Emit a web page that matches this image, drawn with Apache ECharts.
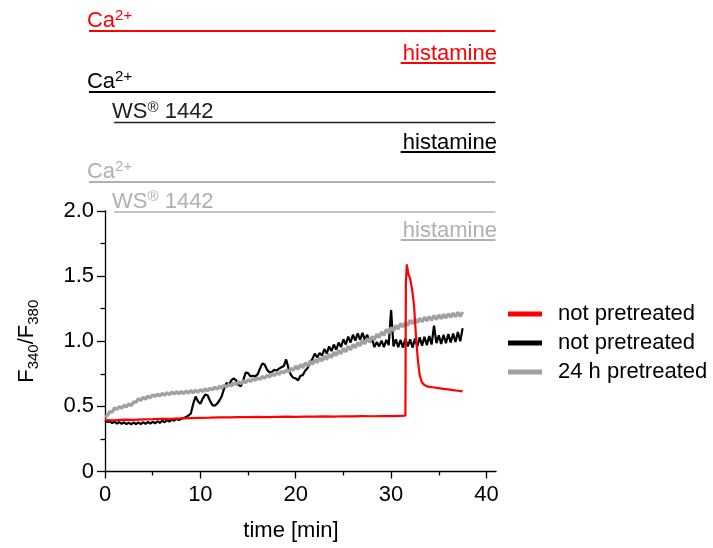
<!DOCTYPE html>
<html><head><meta charset="utf-8">
<script src="https://cdn.jsdelivr.net/npm/echarts@6/dist/echarts.min.js"></script>
<style>html,body{margin:0;padding:0;background:#fff}#c{width:713px;height:548px}</style>
</head><body><div id="c"></div>
<script>
const FONT = '"Liberation Sans", Arial, sans-serif';

// ---- data ----
const STEP = 0.25; // min, sampling of black & gray traces
const grayValues = [
  0.42, 0.43, 0.46, 0.455, 0.49, 0.475, 0.50, 0.485,
  0.51, 0.495, 0.52, 0.505, 0.535, 0.53, 0.56, 0.545,
  0.57, 0.555, 0.58, 0.565, 0.59, 0.575, 0.595, 0.58,
  0.60, 0.585, 0.605, 0.59, 0.61, 0.595, 0.612, 0.596,
  0.615, 0.598, 0.618, 0.60, 0.622, 0.603, 0.625, 0.608,
  0.63, 0.612, 0.636, 0.618, 0.64, 0.625, 0.648, 0.632,
  0.655, 0.64, 0.662, 0.648, 0.67, 0.656, 0.68, 0.665,
  0.69, 0.674, 0.697, 0.682, 0.705, 0.69, 0.712, 0.698,
  0.72, 0.706, 0.73, 0.716, 0.74, 0.725, 0.75, 0.735,
  0.76, 0.745, 0.77, 0.756, 0.78, 0.766, 0.792, 0.778,
  0.81, 0.785, 0.822, 0.797, 0.835, 0.81, 0.848, 0.822,
  0.86, 0.834, 0.874, 0.847, 0.887, 0.86, 0.90, 0.874,
  0.916, 0.889, 0.93, 0.904, 0.946, 0.918, 0.962, 0.934,
  0.976, 0.949, 0.991, 0.964, 1.006, 0.979, 1.022, 0.994,
  1.037, 1.01, 1.055, 1.028, 1.072, 1.045, 1.092, 1.063,
  1.107, 1.08, 1.122, 1.093, 1.137, 1.11, 1.147, 1.12,
  1.162, 1.133, 1.172, 1.143, 1.177, 1.148, 1.185, 1.156,
  1.19, 1.161, 1.197, 1.168, 1.202, 1.173, 1.207, 1.178,
  1.212, 1.183, 1.217, 1.188, 1.222, 1.19, 1.225
];
const blackValues = [
  0.395, 0.38, 0.385, 0.372, 0.383, 0.368, 0.38, 0.365,
  0.378, 0.363, 0.376, 0.362, 0.377, 0.363, 0.377, 0.364,
  0.379, 0.365, 0.381, 0.367, 0.383, 0.37, 0.386, 0.373,
  0.39, 0.378, 0.395, 0.383, 0.40, 0.39, 0.405, 0.395,
  0.405, 0.41, 0.418, 0.43, 0.445, 0.52, 0.575, 0.54,
  0.52, 0.56, 0.59, 0.585, 0.545, 0.51, 0.505, 0.52,
  0.545, 0.58, 0.64, 0.68, 0.665, 0.70, 0.715, 0.70,
  0.665, 0.655, 0.70, 0.76, 0.755, 0.73, 0.735, 0.73,
  0.745, 0.79, 0.83, 0.82, 0.78, 0.76, 0.765, 0.78,
  0.775, 0.79, 0.80, 0.81, 0.86, 0.79, 0.74, 0.72,
  0.715, 0.70, 0.735, 0.74, 0.775, 0.795, 0.835, 0.865,
  0.905, 0.875, 0.91, 0.89, 0.94, 0.905, 0.96, 0.925,
  0.975, 0.935, 0.99, 0.955, 1.015, 0.975, 1.035, 0.99,
  1.05, 1.005, 1.06, 1.01, 1.065, 1.01, 1.05, 0.99,
  1.02, 0.955, 0.995, 0.96, 1.005, 0.955, 1.01, 0.97,
  1.24, 0.96, 1.015, 0.955, 1.01, 0.95, 1.02, 0.96,
  1.015, 0.95, 1.02, 0.96, 1.03, 0.965, 1.035, 0.97,
  1.04, 0.975, 1.12, 0.985, 1.045, 0.98, 1.05, 0.985,
  1.055, 0.99, 1.06, 0.995, 1.07, 1.00, 1.10
];
const redTime = [0,1,2,3,4,5,6,7,8,9,10,11,12,13,14,15,16,17,18,19,20,21,22,23,24,25,26,27,28,29,30,31,31.5,
  31.55,31.65,31.8,32.0,32.2,32.4,32.6,32.8,33.0,33.2,33.4,33.7,34,34.5,35,35.5,36,36.5,37,37.5];
const redValues = [0.395,0.392,0.398,0.396,0.40,0.402,0.405,0.404,0.408,0.41,0.412,0.413,0.415,0.416,0.418,0.417,
  0.419,0.418,0.42,0.421,0.42,0.422,0.421,0.423,0.422,0.424,0.423,0.425,0.424,0.426,0.425,0.427,0.428,
  1.45,1.59,1.52,1.48,1.40,1.28,1.05,0.86,0.74,0.69,0.67,0.655,0.65,0.645,0.64,0.635,0.63,0.625,0.62,0.615];

const seriesNames = ['not pretreated', 'not pretreated\u200b', '24 h pretreated'];
const seriesColors = ['#ff0000', '#000000', '#a0a0a5'];
const xMajorTicks = [0, 10, 20, 30, 40];
const xMinorTicks = [5, 15, 25, 35];

// protocol bars above the plot: label, time range, colour
const annotLabels = ['Ca{sup|2+}', 'histamine', 'Ca{sup|2+}', 'WS{sup|®} 1442', 'histamine', 'Ca{sup|2+}', 'WS{sup|®} 1442', 'histamine'];
const annotStart = [-1.68, 31.0, -1.68, 0.95, 31.0, -1.68, 0.95, 31.0];
const annotEnd   = [40.94, 40.94, 40.94, 40.94, 40.94, 40.94, 40.94, 40.94];
const annotColor = ['#ff0000', '#ff0000', '#000000', '#202020', '#000000', '#b0b0b0', '#b0b0b0', '#b0b0b0'];
const annotRowY  = [31, 63, 92, 122.5, 152, 182, 212, 240];
const annotAlignRight = [false, true, false, false, true, false, false, true];

const timeGrid = grayValues.map((_, i) => i * STEP);
const pairs = (xs, ys) => ys.map((v, i) => [xs[i], v]);

const chart = echarts.init(document.getElementById('c'), null, {renderer: 'canvas'});
const axisColor = '#000';
const option = {
  animation: false,
  grid: {left: 105, top: 211, right: 217, bottom: 76.5, containLabel: false, outerBoundsMode: 'none'},
  legend: {
    orient: 'vertical', left: 503, top: 298,
    itemWidth: 34, itemHeight: 5, itemGap: 7, icon: 'rect',
    data: seriesNames,
    formatter: n => n.replace('\u200b', ''),
    textStyle: {fontSize: 22, fontFamily: FONT, color: '#000', padding: [0, 0, 0, 11]}
  },
  xAxis: [{
    type: 'value', min: 0, max: 41, interval: 10,
    axisLine: {lineStyle: {color: axisColor, width: 1.3}},
    axisTick: {length: 7, lineStyle: {color: axisColor, width: 1.3}, customValues: xMajorTicks},
    axisLabel: {customValues: xMajorTicks, fontSize: 22, fontFamily: FONT, color: '#000', margin: 12},
    splitLine: {show: false},
    name: 'time [min]', nameLocation: 'middle', nameGap: 48,
    nameTextStyle: {fontSize: 22, fontFamily: FONT, color: '#000', padding: [0, 19, 0, 0]}
  }, {
    type: 'value', min: 0, max: 41, position: 'bottom',
    axisLine: {show: false},
    axisTick: {length: 4, lineStyle: {color: axisColor, width: 1.3}, customValues: xMinorTicks},
    axisLabel: {show: false}, splitLine: {show: false}
  }],
  yAxis: {
    type: 'value', min: 0, max: 2, interval: 0.5,
    axisLine: {show: true, lineStyle: {color: axisColor, width: 1.3}},
    axisTick: {show: true, length: 8, lineStyle: {color: axisColor, width: 1.3}},
    minorTick: {show: true, splitNumber: 2, length: 4.5, lineStyle: {color: axisColor, width: 1.3}},
    axisLabel: {fontSize: 22, fontFamily: FONT, color: '#000', margin: 11,
      formatter: v => v === 0 ? '0' : v.toFixed(1)},
    splitLine: {show: false},
    name: 'F{sub|340}/F{sub|380}', nameLocation: 'middle', nameGap: 64, nameRotate: 90,
    nameTextStyle: {fontSize: 22, fontFamily: FONT, color: '#000', lineHeight: 28,
      rich: {sub: {fontSize: 15, fontFamily: FONT, color: '#000', verticalAlign: 'bottom', lineHeight: 28}}}
  },
  series: [
    {name: seriesNames[1], type: 'line', data: pairs(timeGrid, blackValues), showSymbol: false, symbol: 'none',
      lineStyle: {color: seriesColors[1], width: 2.2}, itemStyle: {color: seriesColors[1]}, z: 2},
    {name: seriesNames[2], type: 'line', data: pairs(timeGrid, grayValues), showSymbol: false, symbol: 'none',
      lineStyle: {color: seriesColors[2], width: 3.2}, itemStyle: {color: seriesColors[2]}, z: 3},
    {name: seriesNames[0], type: 'line', data: pairs(redTime, redValues), showSymbol: false, symbol: 'none',
      lineStyle: {color: seriesColors[0], width: 2.2}, itemStyle: {color: seriesColors[0]}, z: 4}
  ]
};
chart.setOption(option);

// protocol annotations positioned through the x axis scale
const elements = [];
annotLabels.forEach((lab, i) => {
  const x1 = chart.convertToPixel({xAxisIndex: 0}, annotStart[i]);
  const x2 = chart.convertToPixel({xAxisIndex: 0}, annotEnd[i]);
  const y = annotRowY[i];
  elements.push({type: 'line', shape: {x1, y1: y, x2, y2: y},
    style: {stroke: annotColor[i], lineWidth: i === 3 || i === 6 ? 1.5 : 2}, silent: true});
  elements.push({type: 'text',
    x: annotAlignRight[i] ? x2 + 1.5 : x1 - 2, y: y + 1.5,
    style: {text: lab, fill: annotColor[i], font: '22px ' + FONT,
      align: annotAlignRight[i] ? 'right' : 'left', verticalAlign: 'bottom',
      rich: {sup: {fontSize: 15, fontFamily: FONT, fill: annotColor[i], verticalAlign: 'top', lineHeight: 24}}},
    silent: true});
});
chart.setOption({graphic: {elements}});
</script></body></html>
